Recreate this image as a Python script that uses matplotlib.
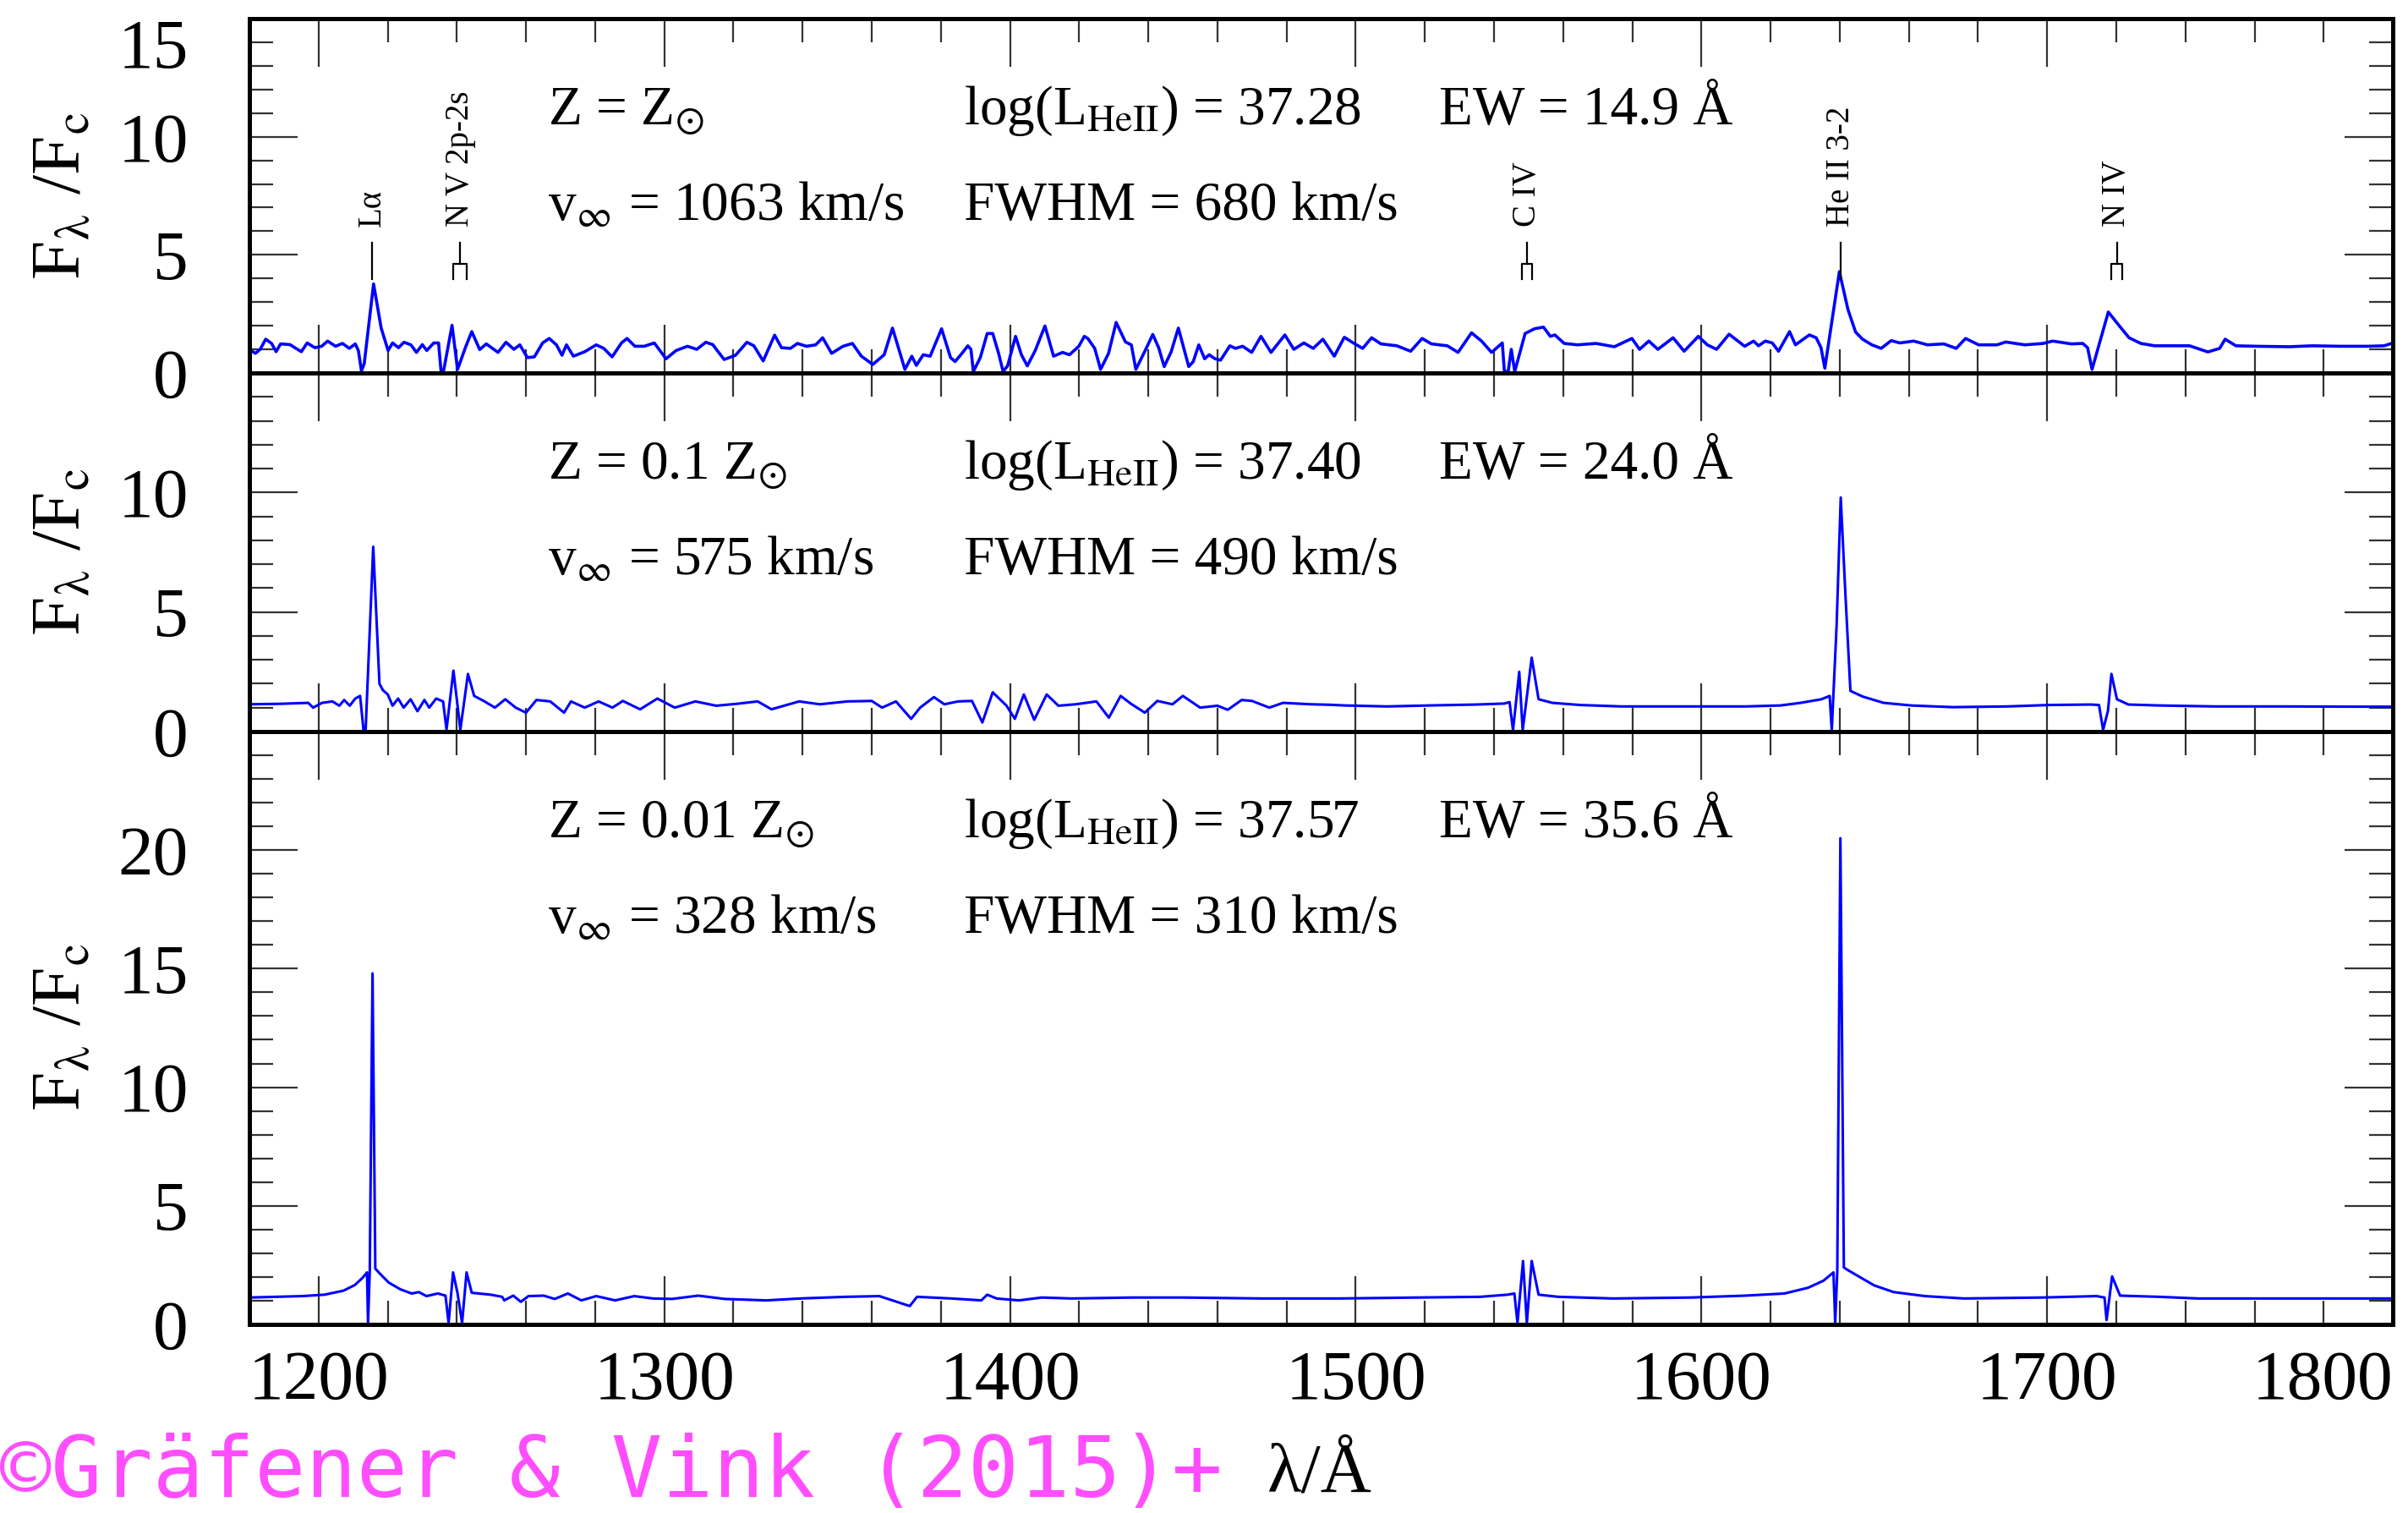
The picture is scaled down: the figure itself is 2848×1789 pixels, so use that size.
import numpy as np
import matplotlib; matplotlib.use("Agg")
import matplotlib.pyplot as plt
from matplotlib.ticker import MultipleLocator

plt.rcParams.update({"font.family": ["Liberation Serif", "DejaVu Serif"], "mathtext.fontset": "stix"})

# ---------- spectra (wavelength in A, F_lambda/F_c) ----------
wl1 = [1180.4, 1181.7, 1183.1, 1184.7, 1186.4, 1187.7, 1189.0, 1191.7, 1195.0, 1196.7,
       1198.9, 1200.9, 1202.6, 1204.9, 1206.9, 1208.9, 1210.6, 1211.5, 1212.4, 1213.2,
       1215.9, 1218.1, 1220.1, 1221.4, 1223.1, 1224.7, 1226.7, 1228.3, 1230.0, 1231.3,
       1233.3, 1234.7, 1235.4, 1236.2, 1238.6, 1240.2, 1242.6, 1244.3, 1246.6, 1248.5,
       1251.9, 1254.2, 1256.5, 1258.2, 1260.4, 1262.4, 1264.8, 1266.7, 1268.8, 1270.4,
       1271.7, 1273.7, 1277.0, 1280.3, 1282.5, 1284.9, 1287.6, 1289.2, 1291.5, 1294.2,
       1297.1, 1300.5, 1303.4, 1306.7, 1309.4, 1312.0, 1314.0, 1317.3, 1320.6, 1323.9,
       1325.9, 1328.6, 1331.9, 1333.9, 1336.5, 1338.5, 1341.1, 1343.8, 1345.8, 1348.4,
       1351.7, 1354.4, 1357.0, 1360.3, 1363.6, 1366.0, 1369.6, 1371.6, 1372.9, 1374.9,
       1376.9, 1380.2, 1382.8, 1384.1, 1386.1, 1387.8, 1388.7, 1389.4, 1391.4, 1393.4,
       1395.0, 1396.7, 1398.0, 1399.3, 1401.6, 1403.3, 1405.0, 1407.3, 1410.1, 1412.6,
       1415.2, 1417.2, 1419.9, 1421.5, 1422.5, 1424.5, 1426.2, 1428.5, 1430.7, 1433.4,
       1435.1, 1436.4, 1439.1, 1441.3, 1443.0, 1444.6, 1446.6, 1448.7, 1451.7, 1453.0,
       1454.6, 1456.3, 1457.6, 1459.3, 1460.9, 1463.6, 1465.2, 1467.3, 1469.9, 1472.6,
       1475.5, 1479.5, 1482.1, 1485.0, 1487.7, 1490.5, 1493.8, 1496.7, 1499.3, 1502.0,
       1504.6, 1507.3, 1511.9, 1515.9, 1519.2, 1521.9, 1526.5, 1529.6, 1533.5, 1536.4,
       1539.3, 1542.4, 1543.0, 1544.1, 1545.0, 1546.0, 1549.0, 1551.7, 1554.3, 1556.3,
       1557.6, 1560.3, 1564.2, 1569.5, 1574.8, 1579.9, 1582.1, 1584.8, 1587.4, 1591.8,
       1595.0, 1599.1, 1601.7, 1604.4, 1608.0, 1612.5, 1615.1, 1616.5, 1618.5, 1620.5,
       1622.3, 1625.5, 1627.2, 1631.2, 1633.2, 1634.6, 1635.7, 1639.9, 1642.4, 1644.6,
       1646.6, 1649.3, 1652.0, 1654.9, 1657.4, 1661.4, 1665.4, 1670.1, 1673.7, 1676.4,
       1680.2, 1685.5, 1688.0, 1693.6, 1698.9, 1701.6, 1707.0, 1710.3, 1711.7, 1713.0,
       1717.7, 1720.4, 1723.7, 1727.1, 1731.1, 1736.5, 1741.2, 1746.5, 1749.9, 1751.5,
       1754.6, 1760.6, 1770.0, 1776.7, 1784.7, 1792.8, 1797.5, 1800.0]
f1 = [0.95, 0.83, 1.00, 1.43, 1.25, 0.90, 1.23, 1.20, 0.90, 1.27,
      1.07, 1.13, 1.35, 1.13, 1.25, 1.04, 1.23, 0.95, 0.08, 0.40,
      3.77, 1.90, 0.95, 1.27, 1.07, 1.30, 1.19, 0.87, 1.20, 0.95,
      1.27, 1.27, 0.10, 0.12, 2.02, 0.15, 1.13, 1.75, 0.99, 1.23,
      0.87, 1.30, 1.00, 1.19, 0.65, 0.68, 1.27, 1.46, 1.19, 0.75,
      1.19, 0.71, 0.90, 1.19, 1.04, 0.68, 1.27, 1.46, 1.13, 1.13,
      1.27, 0.60, 0.95, 1.13, 1.00, 1.30, 1.20, 0.57, 0.75, 1.30,
      1.15, 0.51, 1.60, 1.07, 1.04, 1.25, 1.13, 1.19, 1.49, 0.83,
      1.13, 1.25, 0.71, 0.36, 0.77, 1.90, 0.15, 0.71, 0.32, 0.77,
      0.71, 1.87, 0.65, 0.48, 0.83, 1.15, 1.00, 0.06, 0.65, 1.67,
      1.67, 0.83, 0.06, 0.30, 1.55, 0.77, 0.30, 0.95, 1.99, 0.71,
      0.87, 0.77, 1.13, 1.55, 1.46, 1.04, 0.15, 0.83, 2.14, 1.31,
      1.19, 0.15, 0.95, 1.63, 1.07, 0.27, 0.89, 1.90, 0.27, 0.48,
      1.19, 0.60, 0.77, 0.60, 0.54, 1.15, 1.04, 1.13, 0.87, 1.55,
      0.87, 1.61, 1.00, 1.27, 1.04, 1.43, 0.71, 1.51, 1.27, 1.04,
      1.49, 1.23, 1.15, 0.92, 1.46, 1.23, 1.15, 0.87, 1.70, 1.35,
      0.87, 1.27, 0.06, 0.06, 1.00, 0.06, 1.67, 1.87, 1.94, 1.55,
      1.61, 1.25, 1.19, 1.25, 1.11, 1.46, 1.00, 1.35, 1.00, 1.49,
      0.92, 1.55, 1.19, 1.00, 1.64, 1.13, 1.35, 1.15, 1.35, 1.27,
      0.92, 1.75, 1.19, 1.61, 1.49, 1.07, 0.20, 4.29, 2.68, 1.73,
      1.43, 1.19, 1.04, 1.37, 1.27, 1.35, 1.19, 1.23, 1.04, 1.46,
      1.19, 1.19, 1.31, 1.19, 1.25, 1.35, 1.23, 1.25, 1.07, 0.15,
      2.58, 2.08, 1.49, 1.25, 1.15, 1.15, 1.15, 0.89, 1.04, 1.43,
      1.15, 1.13, 1.11, 1.15, 1.13, 1.13, 1.15, 1.27]

wl2 = [1180.0, 1189.0, 1197.0, 1198.4, 1201.0, 1204.0, 1206.0, 1207.4, 1209.0, 1210.6,
       1212.0, 1213.0, 1213.6, 1215.8, 1217.6, 1218.6, 1220.0, 1221.4, 1223.0, 1224.6,
       1226.6, 1228.6, 1230.6, 1232.0, 1234.0, 1236.0, 1237.0, 1239.0, 1241.0, 1243.2,
       1245.0, 1248.0, 1251.0, 1254.0, 1257.0, 1260.0, 1263.0, 1267.0, 1271.0, 1273.0,
       1277.0, 1281.0, 1285.0, 1288.0, 1293.0, 1298.0, 1303.0, 1309.0, 1315.0, 1321.0,
       1327.0, 1331.0, 1339.0, 1345.0, 1353.0, 1360.0, 1363.0, 1367.0, 1371.4, 1374.0,
       1378.0, 1381.0, 1385.0, 1389.0, 1392.0, 1395.0, 1399.0, 1401.4, 1404.0, 1407.0,
       1410.6, 1414.0, 1419.0, 1425.0, 1428.6, 1432.0, 1435.0, 1439.0, 1442.6, 1447.0,
       1450.0, 1455.0, 1460.0, 1463.0, 1467.0, 1470.0, 1475.0, 1479.0, 1487.0, 1492.6,
       1497.0, 1509.0, 1521.0, 1535.0, 1543.0, 1544.5, 1545.5, 1547.3, 1548.3, 1550.9,
       1552.9, 1556.9, 1564.9, 1576.8, 1588.8, 1600.8, 1612.8, 1622.8, 1628.7, 1634.7,
       1637.1, 1637.7, 1639.1, 1640.3, 1641.7, 1643.1, 1646.7, 1652.7, 1660.7, 1672.7,
       1688.6, 1700.6, 1712.6, 1715.0, 1716.2, 1717.6, 1718.6, 1720.2, 1723.5, 1732.5,
       1748.5, 1768.5, 1788.4, 1800.0]
f2 = [1.14, 1.16, 1.20, 1.00, 1.20, 1.26, 1.08, 1.32, 1.08, 1.38,
      1.49, 0.05, 0.05, 7.73, 2.00, 1.73, 1.55, 1.08, 1.38, 1.00,
      1.35, 0.85, 1.32, 1.00, 1.38, 1.26, 0.08, 2.55, 0.08, 2.41,
      1.49, 1.26, 1.00, 1.35, 1.00, 0.79, 1.32, 1.26, 0.79, 1.26,
      1.00, 1.26, 1.00, 1.28, 0.93, 1.38, 1.00, 1.26, 1.08, 1.16,
      1.26, 0.93, 1.26, 1.14, 1.26, 1.28, 1.00, 1.26, 0.53, 1.00,
      1.44, 1.14, 1.26, 1.28, 0.38, 1.64, 1.08, 0.53, 1.55, 0.49,
      1.55, 1.08, 1.14, 1.26, 0.58, 1.49, 1.16, 0.79, 1.28, 1.14,
      1.49, 1.00, 1.08, 0.91, 1.32, 1.28, 1.00, 1.20, 1.14, 1.12,
      1.09, 1.05, 1.09, 1.13, 1.17, 1.23, 0.05, 2.50, 0.05, 3.09,
      1.35, 1.20, 1.11, 1.05, 1.05, 1.05, 1.05, 1.09, 1.20, 1.35,
      1.49, 0.05, 4.42, 9.79, 5.60, 1.70, 1.46, 1.20, 1.09, 1.02,
      1.05, 1.11, 1.13, 1.11, 0.07, 0.87, 2.41, 1.35, 1.13, 1.09,
      1.05, 1.05, 1.04, 1.04]

wl3 = [1180.0, 1195.2, 1201.7, 1207.2, 1210.5, 1212.7, 1214.0, 1214.3, 1214.8, 1215.6,
       1216.4, 1218.1, 1220.3, 1223.6, 1226.9, 1229.0, 1231.2, 1234.5, 1236.7, 1237.6,
       1238.9, 1240.2, 1241.5, 1242.8, 1244.3, 1249.8, 1253.1, 1253.7, 1256.3, 1258.5,
       1260.7, 1265.1, 1268.3, 1272.1, 1276.0, 1280.3, 1285.8, 1291.3, 1296.7, 1302.2,
       1309.8, 1317.5, 1329.5, 1339.3, 1352.4, 1362.2, 1371.0, 1373.1, 1383.0, 1391.7,
       1393.4, 1396.1, 1402.6, 1409.2, 1417.9, 1435.4, 1450.2, 1472.8, 1495.3, 1517.9,
       1536.0, 1543.9, 1545.9, 1546.8, 1548.4, 1549.5, 1550.9, 1552.9, 1558.6, 1574.4,
       1597.0, 1612.7, 1624.0, 1630.8, 1635.3, 1638.2, 1638.7, 1639.3, 1640.2, 1641.2,
       1642.1, 1645.5, 1650.0, 1655.6, 1664.7, 1675.9, 1698.5, 1714.3, 1716.6, 1717.2,
       1718.8, 1721.1, 1732.4, 1743.7, 1766.2, 1788.8, 1800.0]
f3 = [1.13, 1.19, 1.25, 1.42, 1.66, 1.96, 2.19, 0.06, 2.25, 14.80,
      2.35, 2.08, 1.76, 1.48, 1.30, 1.36, 1.19, 1.30, 1.21, 0.06,
      2.19, 1.30, 0.06, 2.19, 1.33, 1.25, 1.16, 1.01, 1.21, 0.95,
      1.19, 1.21, 1.07, 1.30, 1.01, 1.19, 1.01, 1.19, 1.09, 1.07,
      1.21, 1.07, 1.01, 1.09, 1.16, 1.19, 0.77, 1.16, 1.09, 1.01,
      1.25, 1.09, 1.01, 1.13, 1.09, 1.13, 1.13, 1.09, 1.09, 1.13,
      1.16, 1.25, 1.30, 0.06, 2.67, 0.06, 2.67, 1.25, 1.16, 1.09,
      1.13, 1.21, 1.30, 1.54, 1.84, 2.19, 0.06, 2.25, 20.50, 2.40,
      2.31, 2.02, 1.64, 1.36, 1.19, 1.09, 1.13, 1.19, 1.13, 0.18,
      2.02, 1.21, 1.16, 1.09, 1.09, 1.09, 1.09]

# panel annotations
z_lab = [r"Z = Z$_{\odot}$", r"Z = 0.1 Z$_{\odot}$", r"Z = 0.01 Z$_{\odot}$"]
vinf = [1063, 575, 328]
logL = ["37.28", "37.40", "37.57"]
fwhm = [680, 490, 310]
ew = ["14.9", "24.0", "35.6"]
ymax = [15, 15, 25]
yticks = [[0, 5, 10, 15], [0, 5, 10], [0, 5, 10, 15, 20]]
xticks = [1200, 1300, 1400, 1500, 1600, 1700, 1800]

# line identifications (top panel)
id_names = ["Lα", "N V 2p-2s", "C IV", "He II 3-2", "N IV"]
id_wl = [1215.5, 1240.9, 1549.6, 1640.4, 1720.2]
id_lo = [None, 1238.9, 1548.0, None, 1718.6]
id_hi = [None, 1242.8, 1551.1, None, 1721.8]

fig = plt.figure(figsize=(14.24, 8.945), dpi=200)
L, W = 0.1036, 0.8901
boxes = [(0.7535, 0.2342), (0.5165, 0.2370), (0.1247, 0.3918)]
spec = [(wl1, f1), (wl2, f2), (wl3, f3)]
axes = []
for i, ((b, h), (wl, fl)) in enumerate(zip(boxes, spec)):
    ax = fig.add_axes([L, b, W, h])
    ax.plot(wl, fl, color="#0000ff", lw=1.3 if i == 0 else 1.1)
    ax.set_xlim(1180, 1800); ax.set_ylim(0, ymax[i])
    ax.set_xticks(xticks); ax.xaxis.set_minor_locator(MultipleLocator(20))
    ax.set_yticks(yticks[i]); ax.yaxis.set_minor_locator(MultipleLocator(1))
    ax.tick_params(which="both", direction="in", top=True, right=True, color="#333333", width=0.8, labelsize=30)
    ax.tick_params(which="major", length=20.5); ax.tick_params(which="minor", length=10)
    ax.tick_params(axis="y", pad=26); ax.tick_params(axis="x", pad=11)
    if i < 2: ax.tick_params(labelbottom=False)
    for s in ax.spines.values(): s.set_linewidth(1.8)
    ax.set_ylabel(r"F$_{\mathrm{\lambda}}$ /F$_{\rm c}$", fontsize=30)
    ax.yaxis.set_label_coords(-0.072, 0.5)
    kw = dict(xycoords="axes fraction", textcoords="offset points", va="baseline", ha="left", fontsize=23.5)
    ax.annotate(z_lab[i], (0.1392, 1), xytext=(0, -45), **kw)
    ax.annotate(r"v$_{\infty}$ = %d km/s" % vinf[i], (0.1392, 1), xytext=(0, -85.7), **kw)
    ax.annotate(r"log(L$_{\rm HeII}$) = " + logL[i], (0.3335, 1), xytext=(0, -45), **kw)
    ax.annotate("FWHM = %d km/s" % fwhm[i], (0.3335, 1), xytext=(0, -85.7), **kw)
    ax.annotate("EW = %s Å" % ew[i], (0.555, 1), xytext=(0, -45), **kw)
    axes.append(ax)

ax1, ax2, ax3 = axes
ax1.yaxis.get_major_ticks()[-1].label1.set_verticalalignment("top")
ax3.xaxis.get_major_ticks()[-1].label1.set_horizontalalignment("right")

for nm, lam, lo, hi in zip(id_names, id_wl, id_lo, id_hi):
    if lo is None:
        ax1.plot([lam, lam], [3.97, 5.5], color="k", lw=0.8)
    else:
        ax1.plot([lam, lam], [4.62, 5.5], color="k", lw=0.8)
        ax1.plot([lo, lo, hi, hi], [3.97, 4.62, 4.62, 3.97], color="k", lw=0.8)
    ax1.text(lam, 6.2, nm, rotation=90, ha="center", va="bottom", fontsize=14)

fig.text(0.548, 0.014, "λ/Å", ha="center", va="baseline", fontsize=30)
fig.text(0.0, 0.026, "©Gräfener & Vink (2015)+", ha="left", va="center", fontsize=36,
         color="#ff4dff", family="DejaVu Sans Mono")

fig.savefig("out.png", dpi=200)
